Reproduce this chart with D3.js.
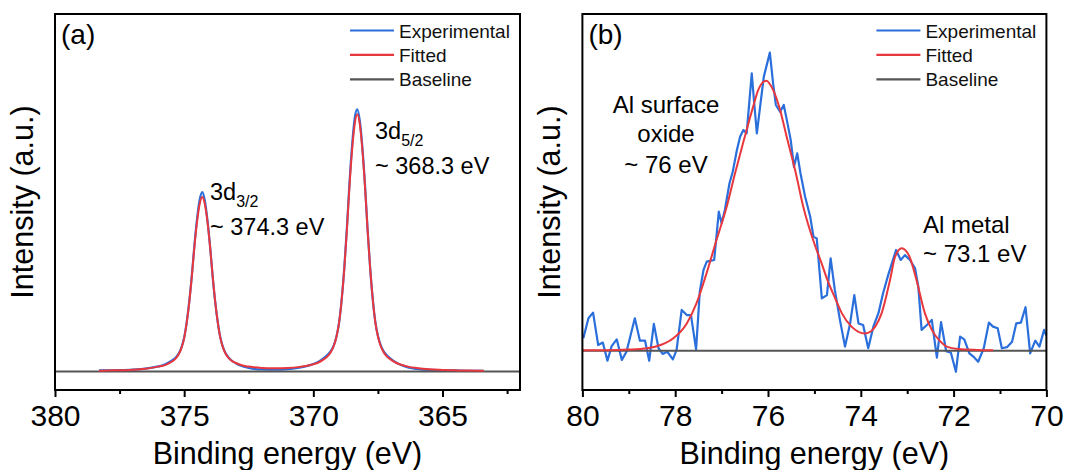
<!DOCTYPE html>
<html>
<head>
<meta charset="utf-8">
<script src="https://cdn.jsdelivr.net/npm/d3@7"></script>
<style>
  html, body { margin: 0; padding: 0; background: #fff; }
  svg { display: block; font-family: "Liberation Sans", Arial, sans-serif; }
</style>
</head>
<body>
<svg id="chart" width="1067" height="470"></svg>
<script>
// ---------- Panel (a): Sb 3d region ----------
const aEnergy = [378.3, 378.0, 377.5, 377.0, 376.5, 376.0, 375.8, 375.6, 375.4, 375.3, 375.2, 375.1, 375.0,
  374.9, 374.8, 374.7, 374.6, 374.5, 374.4, 374.3, 374.2, 374.1, 374.0, 373.9, 373.8, 373.7, 373.6, 373.5,
  373.4, 373.3, 373.2, 373.0, 372.8, 372.5, 372.0, 371.5, 371.0, 370.6, 370.3, 370.0, 369.8, 369.6, 369.4,
  369.3, 369.2, 369.1, 369.0, 368.9, 368.8, 368.7, 368.6, 368.5, 368.4, 368.3, 368.2, 368.1, 368.0, 367.9,
  367.8, 367.7, 367.6, 367.5, 367.4, 367.3, 367.2, 367.0, 366.8, 366.6, 366.3, 366.0, 365.5, 365.0, 364.5,
  364.0, 363.4];
const aExperimental = [0.004, 0.004, 0.005, 0.007, 0.011, 0.020, 0.025, 0.035, 0.048, 0.058, 0.072, 0.095, 0.132,
  0.193, 0.275, 0.378, 0.495, 0.595, 0.668, 0.698, 0.665, 0.590, 0.490, 0.373, 0.272, 0.192, 0.132, 0.096,
  0.072, 0.057, 0.046, 0.032, 0.022, 0.014, 0.008, 0.007, 0.009, 0.014, 0.020, 0.029, 0.038, 0.052, 0.070,
  0.083, 0.104, 0.138, 0.193, 0.283, 0.405, 0.560, 0.735, 0.880, 0.985, 1.020, 0.975, 0.870, 0.725, 0.553,
  0.402, 0.282, 0.193, 0.139, 0.105, 0.083, 0.068, 0.049, 0.035, 0.025, 0.015, 0.010, 0.006, 0.005, 0.004,
  0.003, 0.003];
const aFitted = [0.003, 0.004, 0.005, 0.007, 0.011, 0.019, 0.023, 0.032, 0.044, 0.054, 0.069, 0.093, 0.130,
  0.191, 0.272, 0.374, 0.489, 0.584, 0.652, 0.679, 0.652, 0.584, 0.489, 0.374, 0.273, 0.192, 0.131, 0.094,
  0.070, 0.055, 0.045, 0.033, 0.025, 0.019, 0.014, 0.0125, 0.014, 0.017, 0.021, 0.028, 0.035, 0.047, 0.065,
  0.080, 0.102, 0.137, 0.192, 0.282, 0.402, 0.552, 0.722, 0.861, 0.961, 1.001, 0.961, 0.861, 0.721, 0.551,
  0.401, 0.281, 0.191, 0.136, 0.101, 0.079, 0.064, 0.046, 0.034, 0.026, 0.018, 0.0135, 0.0085, 0.0063, 0.0046,
  0.0034, 0.0026];
const aBaselineEnergy = [380, 362];
const aBaseline = [0, 0];
const aTicks = [380, 375, 370, 365];
const aMinorTicks = [377.5, 372.5, 367.5, 362.5];

// ---------- Panel (b): Al 2p region ----------
const bExpEnergy = [79.98, 79.87, 79.77, 79.66, 79.56, 79.46, 79.37, 79.26, 79.15, 79.05, 78.87, 78.76, 78.65,
  78.56, 78.46, 78.36, 78.27, 78.17, 78.05, 77.97, 77.86, 77.75, 77.66, 77.55, 77.47, 77.39, 77.32, 77.16,
  77.06, 77.00, 76.93, 76.83, 76.76, 76.67, 76.60, 76.53, 76.46, 76.35, 76.30, 76.24, 76.17, 76.09, 75.96,
  75.89, 75.83, 75.74, 75.66, 75.58, 75.51, 75.44, 75.37, 75.30, 75.20, 75.09, 75.02, 74.95, 74.84, 74.73,
  74.65, 74.56, 74.45, 74.34, 74.23, 74.14, 74.05, 73.95, 73.84, 73.73, 73.62, 73.52, 73.41, 73.24, 73.14,
  73.05, 72.94, 72.83, 72.76, 72.69, 72.57, 72.47, 72.36, 72.27, 72.16, 72.06, 71.95, 71.86, 71.77, 71.66,
  71.56, 71.47, 71.35, 71.24, 71.15, 71.05, 70.96, 70.85, 70.74, 70.65, 70.55, 70.45, 70.35, 70.24, 70.15,
  70.05, 70.00];
const bExperimental = [0.046, 0.120, 0.141, 0.021, 0.030, -0.037, 0.017, 0.042, -0.034, -0.004, 0.120, 0.037, 0.037,
  -0.037, 0.099, 0.009, -0.012, -0.004, -0.032, 0.003, 0.151, 0.132, 0.132, 0.005, 0.219, 0.299, 0.330, 0.336,
  0.515, 0.472, 0.521, 0.620, 0.663, 0.743, 0.793, 0.817, 0.805, 1.027, 0.922, 0.805, 0.904, 1.015, 1.104,
  0.990, 0.910, 0.885, 0.910, 0.842, 0.780, 0.681, 0.731, 0.657, 0.570, 0.496, 0.422, 0.416, 0.194, 0.206,
  0.342, 0.225, 0.114, 0.015, 0.101, 0.206, 0.101, 0.095, 0.009, 0.089, 0.139, 0.213, 0.280, 0.373, 0.336,
  0.354, 0.336, 0.305, 0.237, 0.077, 0.096, 0.114, -0.026, 0.106, -0.002, -0.007, -0.078, 0.052, 0.042, -0.010,
  -0.024, -0.041, 0.009, 0.104, 0.089, 0.083, 0.009, 0.013, 0.033, 0.101, 0.104, 0.161, -0.010, 0.037, 0.015,
  0.077, 0.056];
const bFitEnergy = [80.00, 79.50, 79.00, 78.60, 78.30, 78.04, 77.75, 77.54, 77.34, 77.11, 76.89, 76.71, 76.52,
  76.32, 76.21, 76.04, 75.89, 75.76, 75.58, 75.40, 75.24, 75.00, 74.85, 74.72, 74.55, 74.41, 74.20, 74.05,
  73.91, 73.78, 73.69, 73.55, 73.37, 73.26, 73.12, 72.95, 72.80, 72.62, 72.47, 72.30, 72.15, 71.90, 71.50,
  71.15];
const bFitted = [0.002, 0.002, 0.004, 0.009, 0.022, 0.046, 0.101, 0.176, 0.278, 0.410, 0.533, 0.657, 0.780,
  0.904, 0.966, 1.000, 0.966, 0.904, 0.780, 0.657, 0.533, 0.396, 0.326, 0.262, 0.193, 0.139, 0.089, 0.070,
  0.064, 0.072, 0.089, 0.139, 0.262, 0.348, 0.379, 0.348, 0.262, 0.139, 0.077, 0.037, 0.015, 0.006, 0.003,
  0.002];
const bBaselineEnergy = [80, 70];
const bBaseline = [0, 0];
const bTicks = [80, 78, 76, 74, 72, 70];
const bMinorTicks = [79, 77, 75, 73, 71];

const legendLabels = ["Experimental", "Fitted", "Baseline"];

// ---------- Styling ----------
const COLOR_EXP = "#2a6fdb";
const COLOR_FIT = "#e8383d";
const COLOR_BASE = "#555555";
const plotTop = 14, plotBottom = 390;

const svg = d3.select("#chart");

function drawPanel(cfg) {
  const g = svg.append("g");
  const x = d3.scaleLinear().domain(cfg.xDomain).range([cfg.left, cfg.right]);
  const y = d3.scaleLinear().domain(cfg.yDomain).range([plotBottom, plotTop]);

  const clipId = "clip-" + cfg.id;
  svg.append("clipPath").attr("id", clipId)
    .append("rect").attr("x", cfg.left).attr("y", plotTop)
    .attr("width", cfg.right - cfg.left).attr("height", plotBottom - plotTop);

  const plot = g.append("g").attr("clip-path", `url(#${clipId})`);

  const line = (curve) => d3.line()
    .x(d => x(d[0])).y(d => y(d[1])).curve(curve);

  plot.append("path")
    .datum(d3.zip(cfg.expEnergy, cfg.experimental))
    .attr("fill", "none").attr("stroke", COLOR_EXP).attr("stroke-width", 2.2)
    .attr("stroke-linejoin", "round")
    .attr("d", line(cfg.expCurve));

  plot.append("path")
    .datum(d3.zip(cfg.baseEnergy, cfg.baseline))
    .attr("fill", "none").attr("stroke", COLOR_BASE).attr("stroke-width", 2)
    .attr("d", line(d3.curveLinear));

  plot.append("path")
    .datum(d3.zip(cfg.fitEnergy, cfg.fitted))
    .attr("fill", "none").attr("stroke", COLOR_FIT).attr("stroke-width", 2)
    .attr("stroke-linejoin", "round")
    .attr("d", line(d3.curveMonotoneX));

  // Bottom axis with outward ticks
  const axis = d3.axisBottom(x).tickValues(cfg.ticks).tickSize(7).tickPadding(8)
    .tickFormat(d3.format("d"));
  const ax = g.append("g").attr("transform", `translate(0,${plotBottom})`).call(axis);
  ax.select(".domain").remove();
  ax.selectAll(".tick line").attr("stroke", "#000").attr("stroke-width", 2);
  ax.selectAll(".tick text").attr("font-size", 30).attr("fill", "#000")
    .attr("font-family", "Liberation Sans, Arial, sans-serif");
  const minor = d3.axisBottom(x).tickValues(cfg.minorTicks).tickSize(4).tickFormat("");
  const mx = g.append("g").attr("transform", `translate(0,${plotBottom})`).call(minor);
  mx.select(".domain").remove();
  mx.selectAll(".tick line").attr("stroke", "#000").attr("stroke-width", 2);

  // Frame
  g.append("rect").attr("x", cfg.left).attr("y", plotTop)
    .attr("width", cfg.right - cfg.left).attr("height", plotBottom - plotTop)
    .attr("fill", "none").attr("stroke", "#000").attr("stroke-width", 2);

  // Axis titles
  g.append("text").attr("x", (cfg.left + cfg.right) / 2).attr("y", 463.5)
    .attr("text-anchor", "middle").attr("font-size", 30.5).attr("fill", "#000")
    .text("Binding energy (eV)");
  g.append("text")
    .attr("transform", `translate(${cfg.left - 22},${(plotTop + plotBottom) / 2}) rotate(-90)`)
    .attr("text-anchor", "middle").attr("font-size", 30.5).attr("fill", "#000")
    .text("Intensity (a.u.)");

  // Panel letter
  g.append("text").attr("x", cfg.left + 6).attr("y", 44)
    .attr("font-size", 28).attr("fill", "#000").text(cfg.letter);

  // Legend
  const colors = [COLOR_EXP, COLOR_FIT, COLOR_BASE];
  legendLabels.forEach((lab, i) => {
    const ly = 30.5 + i * 24.4;
    g.append("line").attr("x1", cfg.right - 170).attr("x2", cfg.right - 126)
      .attr("y1", ly).attr("y2", ly)
      .attr("stroke", colors[i]).attr("stroke-width", 2.2);
    g.append("text").attr("x", cfg.right - 121).attr("y", ly + 7)
      .attr("font-size", 19).attr("fill", "#111").text(lab);
  });

  return g;
}

const ga = drawPanel({
  id: "a", letter: "(a)", left: 55, right: 520,
  xDomain: [380, 362], yDomain: [-0.072, 1.391],
  expEnergy: aEnergy, experimental: aExperimental, expCurve: d3.curveMonotoneX,
  fitEnergy: aEnergy, fitted: aFitted,
  baseEnergy: aBaselineEnergy, baseline: aBaseline,
  ticks: aTicks, minorTicks: aMinorTicks
});

const gb = drawPanel({
  id: "b", letter: "(b)", left: 582.4, right: 1046.4,
  xDomain: [80, 70], yDomain: [-0.1456, 1.247],
  expEnergy: bExpEnergy, experimental: bExperimental, expCurve: d3.curveLinear,
  fitEnergy: bFitEnergy, fitted: bFitted,
  baseEnergy: bBaselineEnergy, baseline: bBaseline,
  ticks: bTicks, minorTicks: bMinorTicks
});

// Peak annotations, panel (a)
function peakLabel(g, xPos, yPos, main, sub, energyText) {
  const t = g.append("text").attr("x", xPos).attr("y", yPos)
    .attr("font-size", 23.5).attr("fill", "#000");
  t.append("tspan").text(main);
  t.append("tspan").attr("font-size", 16).attr("dy", 7).text(sub);
  g.append("text").attr("x", xPos).attr("y", yPos + 35)
    .attr("font-size", 23.5).attr("fill", "#000").text(energyText);
}
peakLabel(ga, 210, 200, "3d", "3/2", "~ 374.3 eV");
peakLabel(ga, 375, 139, "3d", "5/2", "~ 368.3 eV");

// Peak annotations, panel (b)
[["Al surface", 112.6], ["oxide", 141.5], ["~ 76 eV", 173]].forEach(([s, yy]) => {
  gb.append("text").attr("x", 666).attr("y", yy).attr("text-anchor", "middle")
    .attr("font-size", 24).attr("fill", "#000").text(s);
});
gb.append("text").attr("x", 923).attr("y", 232.7)
  .attr("font-size", 24).attr("fill", "#000").text("Al metal");
gb.append("text").attr("x", 923).attr("y", 261.7)
  .attr("font-size", 24).attr("fill", "#000").text("~ 73.1 eV");
</script>
</body>
</html>
